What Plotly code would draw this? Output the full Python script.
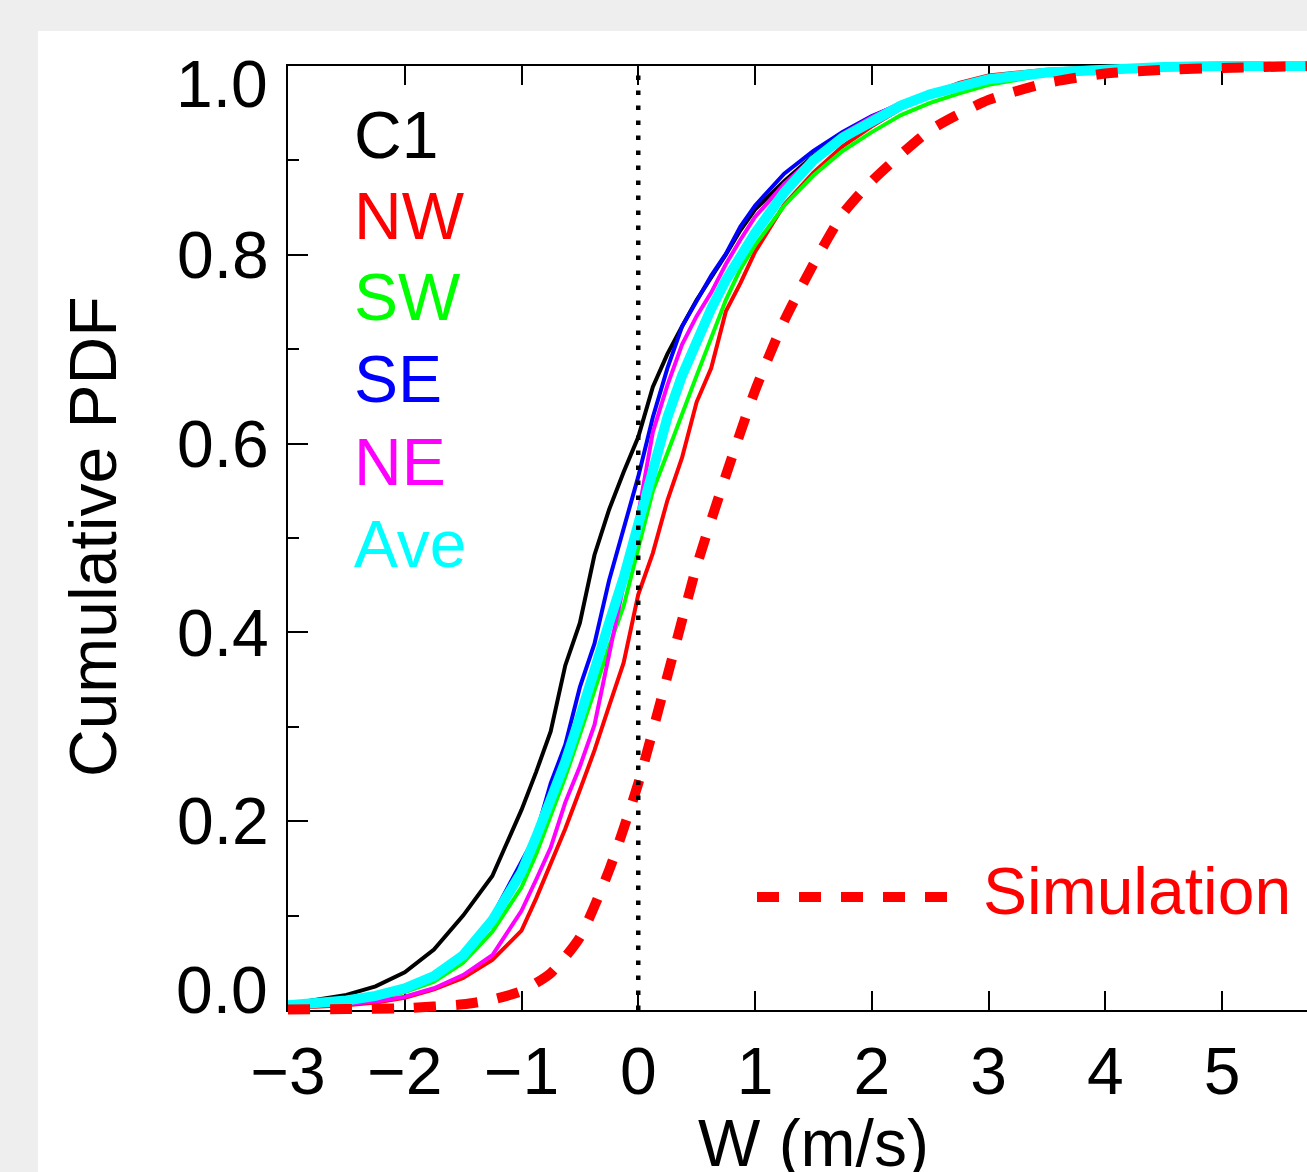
import plotly.graph_objects as go

# ---- data ---------------------------------------------------------------
# vertical velocity bins (m/s) shared by the observed curves
w_obs = [-3.0, -2.75, -2.5, -2.25, -2.0, -1.75, -1.5, -1.25, -1.0, -0.875,
         -0.75, -0.625, -0.5, -0.375, -0.25, -0.125, 0.0, 0.125, 0.25, 0.375,
         0.5, 0.625, 0.75, 0.875, 1.0, 1.25, 1.5, 1.75, 2.0, 2.25, 2.5, 2.75,
         3.0, 3.5, 4.0, 4.5, 5.0, 5.8]

cdf_c1 = [0.006, 0.011, 0.016, 0.025, 0.040, 0.064, 0.100, 0.142, 0.212, 0.252,
          0.295, 0.365, 0.410, 0.482, 0.530, 0.570, 0.607, 0.660, 0.695, 0.724,
          0.752, 0.776, 0.800, 0.826, 0.848, 0.878, 0.905, 0.926, 0.944, 0.958,
          0.970, 0.980, 0.988, 0.995, 0.998, 0.999, 1.0, 1.0]

cdf_nw = [0.002, 0.003, 0.005, 0.008, 0.013, 0.022, 0.034, 0.053, 0.084, 0.118,
          0.155, 0.192, 0.233, 0.275, 0.322, 0.368, 0.440, 0.484, 0.540, 0.585,
          0.644, 0.680, 0.740, 0.770, 0.803, 0.853, 0.887, 0.915, 0.936, 0.955,
          0.970, 0.982, 0.990, 0.996, 0.999, 1.0, 1.0, 1.0]

cdf_sw = [0.004, 0.006, 0.008, 0.012, 0.019, 0.030, 0.050, 0.083, 0.130, 0.165,
          0.205, 0.247, 0.292, 0.340, 0.385, 0.428, 0.487, 0.550, 0.590, 0.632,
          0.672, 0.712, 0.752, 0.785, 0.810, 0.852, 0.884, 0.910, 0.930, 0.948,
          0.961, 0.971, 0.980, 0.991, 0.996, 0.999, 1.0, 1.0]

cdf_se = [0.005, 0.007, 0.010, 0.014, 0.022, 0.035, 0.058, 0.099, 0.158, 0.186,
          0.240, 0.281, 0.342, 0.388, 0.455, 0.510, 0.565, 0.628, 0.680, 0.724,
          0.752, 0.778, 0.801, 0.830, 0.852, 0.886, 0.910, 0.930, 0.947, 0.960,
          0.971, 0.980, 0.987, 0.994, 0.998, 0.999, 1.0, 1.0]

cdf_ne = [0.004, 0.005, 0.006, 0.009, 0.014, 0.023, 0.037, 0.058, 0.105, 0.138,
          0.172, 0.220, 0.258, 0.302, 0.375, 0.450, 0.525, 0.612, 0.662, 0.705,
          0.735, 0.760, 0.790, 0.816, 0.840, 0.875, 0.903, 0.928, 0.946, 0.961,
          0.972, 0.981, 0.988, 0.995, 0.998, 0.999, 1.0, 1.0]

cdf_ave = [0.005, 0.007, 0.010, 0.015, 0.023, 0.036, 0.058, 0.095, 0.146, 0.183,
           0.222, 0.263, 0.310, 0.356, 0.410, 0.458, 0.517, 0.578, 0.628, 0.672,
           0.708, 0.743, 0.773, 0.800, 0.823, 0.866, 0.900, 0.924, 0.942, 0.958,
           0.970, 0.979, 0.986, 0.993, 0.997, 0.999, 1.0, 1.0]

# model result
w_sim = [-3.0, -2.5, -2.0, -1.5, -1.25, -1.0, -0.75, -0.5, -0.25, 0.0, 0.25,
         0.5, 0.75, 1.0, 1.25, 1.5, 1.75, 2.0, 2.5, 3.0, 3.5, 4.0, 4.5, 5.0, 5.8]
cdf_sim = [0.0005, 0.001, 0.002, 0.006, 0.011, 0.020, 0.039, 0.077, 0.148, 0.240,
           0.354, 0.470, 0.566, 0.656, 0.730, 0.790, 0.843, 0.878, 0.932, 0.964,
           0.982, 0.992, 0.996, 0.998, 1.0]

site_names = ["C1", "NW", "SW", "SE", "NE", "Ave"]
site_colors = ["#000000", "#ff0000", "#00ff00", "#0000ff", "#ff00ff", "#00ffff"]
site_cdfs = [cdf_c1, cdf_nw, cdf_sw, cdf_se, cdf_ne, cdf_ave]
sim_name = "Simulation"

x_ticks = [-3, -2, -1, 0, 1, 2, 3, 4, 5]
y_ticks = [0.0, 0.2, 0.4, 0.6, 0.8, 1.0]
y_tick_text = ["%.1f" % v for v in y_ticks]

# ---- geometry -------------------------------------------------------------
W, H = 1307, 1172
LEFT, TOP_P, BOT_P = 288, 50, 150          # paper area: x 288..1307, y 50..1022
AX_TOP, AX_BOT = 66, 1010                  # framed plot box (pixels)
PX_PER_W = 116.75
PX_PER_P = AX_BOT - AX_TOP
X_MIN = -3.0
X_MAX = X_MIN + (W - LEFT) / PX_PER_W
PAPER_H = H - TOP_P - BOT_P


def px(p):
    return (p - LEFT) / (W - LEFT)


def py(p):
    return (H - BOT_P - p) / PAPER_H


FONT = "Liberation Sans, Arial, Helvetica, sans-serif"
FS = 66

fig = go.Figure()

# curves live on a slightly taller hidden subplot so thick lines are not
# clipped at the frame
for name, col, cdf in zip(site_names, site_colors, site_cdfs):
    fig.add_trace(go.Scatter(
        x=w_obs, y=cdf, mode="lines", name=name,
        line=dict(color=col, width=10 if name == "Ave" else 4),
        xaxis="x2", yaxis="y2", showlegend=False))

fig.add_trace(go.Scatter(
    x=w_sim, y=cdf_sim, mode="lines", name=sim_name,
    line=dict(color="#ff0000", width=10, dash="22px,20px", shape="spline",
              smoothing=0.6),
    xaxis="x2", yaxis="y2", showlegend=False))

y2_lo = -(H - BOT_P - AX_BOT) / PX_PER_P
y2_hi = 1 + (AX_TOP - TOP_P) / PX_PER_P

axis_common = dict(showgrid=False, zeroline=False, showline=True,
                   linecolor="black", linewidth=2, ticks="inside",
                   tickcolor="black", tickwidth=2,
                   tickfont=dict(family=FONT, size=FS, color="black"))

# end labels of the y axis sit inside the frame; they are drawn separately
inner_text = [t if 0 < v < 1 else "" for v, t in zip(y_ticks, y_tick_text)]

fig.update_layout(
    width=W, height=H,
    margin=dict(l=LEFT, r=0, t=TOP_P, b=BOT_P, pad=0),
    paper_bgcolor="#eeeeee",
    plot_bgcolor="rgba(0,0,0,0)",
    font=dict(family=FONT, size=FS, color="black"),
    xaxis=dict(domain=[0, 1], range=[X_MIN, X_MAX], tickmode="array",
               tickvals=x_ticks, ticklen=19, mirror="ticks",
               ticklabelstandoff=3, **axis_common),
    yaxis=dict(domain=[py(AX_BOT), py(AX_TOP)], range=[0, 1],
               tickmode="array", tickvals=y_ticks, ticktext=inner_text,
               ticklen=20, mirror=False, ticklabelstandoff=4,
               minor=dict(dtick=0.1, ticklen=11, tickwidth=2,
                          tickcolor="black", ticks="inside"),
               **axis_common),
    xaxis2=dict(domain=[0, 1], range=[X_MIN, X_MAX], visible=False,
                anchor="y2"),
    yaxis2=dict(domain=[0, 1], range=[y2_lo, y2_hi], visible=False,
                anchor="x2"),
)

shapes = [
    # white panel on the grey page
    dict(type="rect", xref="paper", yref="paper", x0=px(38), x1=px(1320),
         y0=py(1190), y1=py(31), fillcolor="white", line=dict(width=0),
         layer="below"),
    # dotted zero line
    dict(type="line", xref="x", yref="paper", x0=0, x1=0,
         y0=py(AX_BOT), y1=py(AX_TOP), layer="above",
         line=dict(color="black", width=4.5, dash="4.5px,10.5px")),
    # simulation key
    dict(type="line", xref="paper", yref="paper", x0=px(757), x1=px(950),
         y0=py(897), y1=py(897), layer="above",
         line=dict(color="#ff0000", width=10, dash="22px,20px")),
]
fig.update_layout(shapes=shapes)

ann = []
# y-axis end labels (0.0 and 1.0), nudged inside the frame
for v, t, ypx in [(y_ticks[0], y_tick_text[0], 990), (y_ticks[-1], y_tick_text[-1], 84)]:
    ann.append(dict(text=t, xref="paper", yref="paper", x=px(270), y=py(ypx),
                    xanchor="right", yanchor="middle", showarrow=False,
                    font=dict(family=FONT, size=FS, color="black")))

label_y = [135, 216, 297, 379, 462, 544]
for name, col, yy in zip(site_names, site_colors, label_y):
    ann.append(dict(text=name, xref="paper", yref="paper", x=px(352), y=py(yy),
                    xanchor="left", yanchor="middle", showarrow=False,
                    font=dict(family=FONT, size=FS, color=col)))
ann.append(dict(text=sim_name, xref="paper", yref="paper", x=px(981), y=py(891),
                xanchor="left", yanchor="middle", showarrow=False,
                font=dict(family=FONT, size=FS, color="#ff0000")))
ann.append(dict(text="W (m/s)", xref="paper", yref="paper", x=px(813),
                y=py(1143), xanchor="center", yanchor="middle",
                showarrow=False, font=dict(family=FONT, size=FS, color="black")))
ann.append(dict(text="Cumulative PDF", xref="paper", yref="paper", x=px(93),
                y=py(537), xanchor="center", yanchor="middle", textangle=-90,
                showarrow=False, font=dict(family=FONT, size=FS, color="black")))
fig.update_layout(annotations=ann)

fig.write_html("out.html", config={"displayModeBar": False})
